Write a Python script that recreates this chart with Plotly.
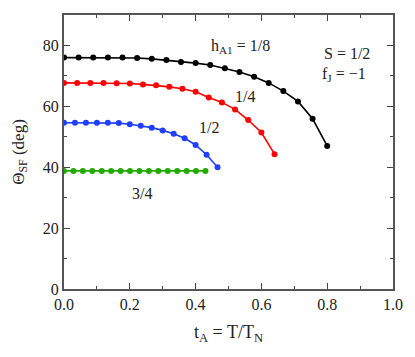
import plotly.graph_objects as go

# Data
x_h18 = [0.0, 0.0444, 0.0889, 0.1333, 0.1778, 0.2222, 0.2667, 0.3111, 0.3556, 0.4,
         0.4444, 0.4889, 0.5333, 0.5778, 0.6222, 0.6667, 0.7111, 0.7556, 0.8]
y_h18 = [76.0, 76.0, 76.0, 76.0, 76.0, 75.9, 75.6, 75.2, 74.6, 74.2,
         73.6, 72.5, 71.3, 69.7, 67.7, 65.0, 61.6, 55.9, 47.0]

x_h14 = [0.0, 0.04, 0.08, 0.12, 0.16, 0.2, 0.24, 0.28, 0.32, 0.36, 0.4,
         0.44, 0.48, 0.52, 0.56, 0.6, 0.64]
y_h14 = [67.7, 67.7, 67.7, 67.7, 67.6, 67.5, 67.2, 66.9, 66.4, 65.8, 64.8,
         62.9, 61.3, 59.0, 55.5, 51.4, 44.3]

x_h12 = [0.0, 0.0333, 0.0667, 0.1, 0.1333, 0.1667, 0.2, 0.2333, 0.2667, 0.3,
         0.3333, 0.3667, 0.4, 0.4333, 0.4667]
y_h12 = [54.6, 54.6, 54.6, 54.6, 54.6, 54.5, 54.1, 53.6, 53.0, 52.1,
         51.0, 49.5, 47.3, 44.1, 40.0]

x_h34 = [0.0, 0.0287, 0.0573, 0.086, 0.1147, 0.1433, 0.172, 0.2007, 0.2293, 0.258,
         0.2867, 0.3153, 0.344, 0.3727, 0.4013, 0.43]
y_h34 = [38.8] * 16

series = [
    (x_h18, y_h18, "black"),
    (x_h14, y_h14, "#ff0000"),
    (x_h12, y_h12, "#1f3fff"),
    (x_h34, y_h34, "#22aa00"),
]

fig = go.Figure()
for xs, ys, c in series:
    fig.add_trace(go.Scatter(x=xs, y=ys, mode="lines+markers",
                             line=dict(color=c, width=1.6),
                             marker=dict(color=c, size=6),
                             showlegend=False))

font_family = "Liberation Serif, Times New Roman, serif"
tc = "#222222"

def ann(x, y, text, size=16):
    fig.add_annotation(x=x, y=y, text=text, showarrow=False,
                       font=dict(family=font_family, size=size, color=tc),
                       xanchor="center", yanchor="middle")

ann(0.535, 79.5, "h<sub>A1</sub> = 1/8")
ann(0.86, 77.2, "S = 1/2")
ann(0.85, 70.5, "f<sub>J</sub> = −1")
ann(0.55, 63.3, "1/4")
ann(0.44, 53.2, "1/2")
ann(0.238, 31.3, "3/4")

axis_common = dict(showline=True, linecolor="#555555", linewidth=2, mirror="ticks",
                   ticks="inside", ticklen=6, tickwidth=1.2, tickcolor="#444444",
                   showgrid=False, zeroline=False,
                   tickfont=dict(family=font_family, size=16, color=tc))

fig.update_xaxes(range=[0, 1.0], dtick=0.2, tickformat=".1f",
                 minor=dict(dtick=0.1, ticks="inside", ticklen=3, tickcolor="#444444"),
                 title=dict(text="t<sub>A</sub> = T/T<sub>N</sub>",
                            font=dict(family=font_family, size=18, color=tc), standoff=13),
                 **axis_common)
fig.update_yaxes(range=[0, 90], dtick=20,
                 minor=dict(dtick=10, ticks="inside", ticklen=3, tickcolor="#444444"),
                 title=dict(text="Θ<sub>SF</sub> (deg)",
                            font=dict(family=font_family, size=17, color=tc), standoff=14),
                 **axis_common)

fig.update_layout(width=415, height=357, margin=dict(l=64, r=15, t=15, b=68),
                  plot_bgcolor="white", paper_bgcolor="white",
                  font=dict(family=font_family))

fig.write_html("out.html", config={"displayModeBar": False},
               post_script="document.body.style.margin='0';")
